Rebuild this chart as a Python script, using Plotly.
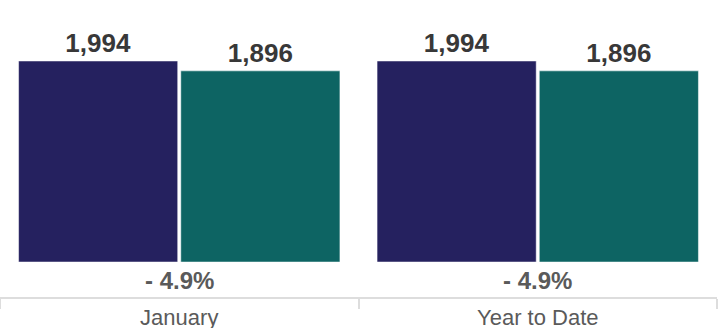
import plotly.graph_objects as go

categories = ["January", "Year to Date"]
prior_year = [1994, 1994]
current_year = [1896, 1896]
change_labels = ["- 4.9%", "- 4.9%"]

navy = "#25215f"
teal = "#0d6463"
FONT = "Liberation Sans, Arial, sans-serif"

fig = go.Figure()
for vals, col in ((prior_year, navy), (current_year, teal)):
    fig.add_trace(go.Bar(
        x=categories, y=vals,
        marker=dict(color=col, line=dict(color="#ffffff", width=0.5)),
        text=[f"{v:,}" for v in vals], textposition="outside",
        texttemplate="<b>%{text}</b>",
        textfont=dict(family=FONT, size=26, color="#383838"),
        cliponaxis=False, hoverinfo="skip",
    ))

for c, lab in zip(categories, change_labels):
    fig.add_annotation(
        x=c, y=0, text=f"<b>{lab}</b>", showarrow=False,
        yanchor="middle", yshift=-18,
        font=dict(family=FONT, size=24, color="#5a5a5a"),
    )

fig.update_layout(
    width=721, height=328,
    margin=dict(l=0, r=4, t=0, b=31, autoexpand=False),
    paper_bgcolor="white", plot_bgcolor="white",
    barmode="group", bargap=0.095, bargroupgap=0.019,
    showlegend=False,
    xaxis=dict(
        automargin=False,
        showline=True, linecolor="#dddddd", linewidth=2,
        ticks="outside", tickson="boundaries", ticklen=10, tickcolor="#dddddd", tickwidth=2,
        tickfont=dict(family=FONT, size=22, color="#5a5a5a"),
        showgrid=False, fixedrange=True,
    ),
    yaxis=dict(
        automargin=False,
        range=[-347, 2599], visible=False, showgrid=False, zeroline=False, fixedrange=True,
    ),
)

fig.write_html(
    "out.html",
    config={"displayModeBar": False, "staticPlot": True},
    post_script="document.body.style.margin='0';document.body.style.overflow='hidden';",
)
